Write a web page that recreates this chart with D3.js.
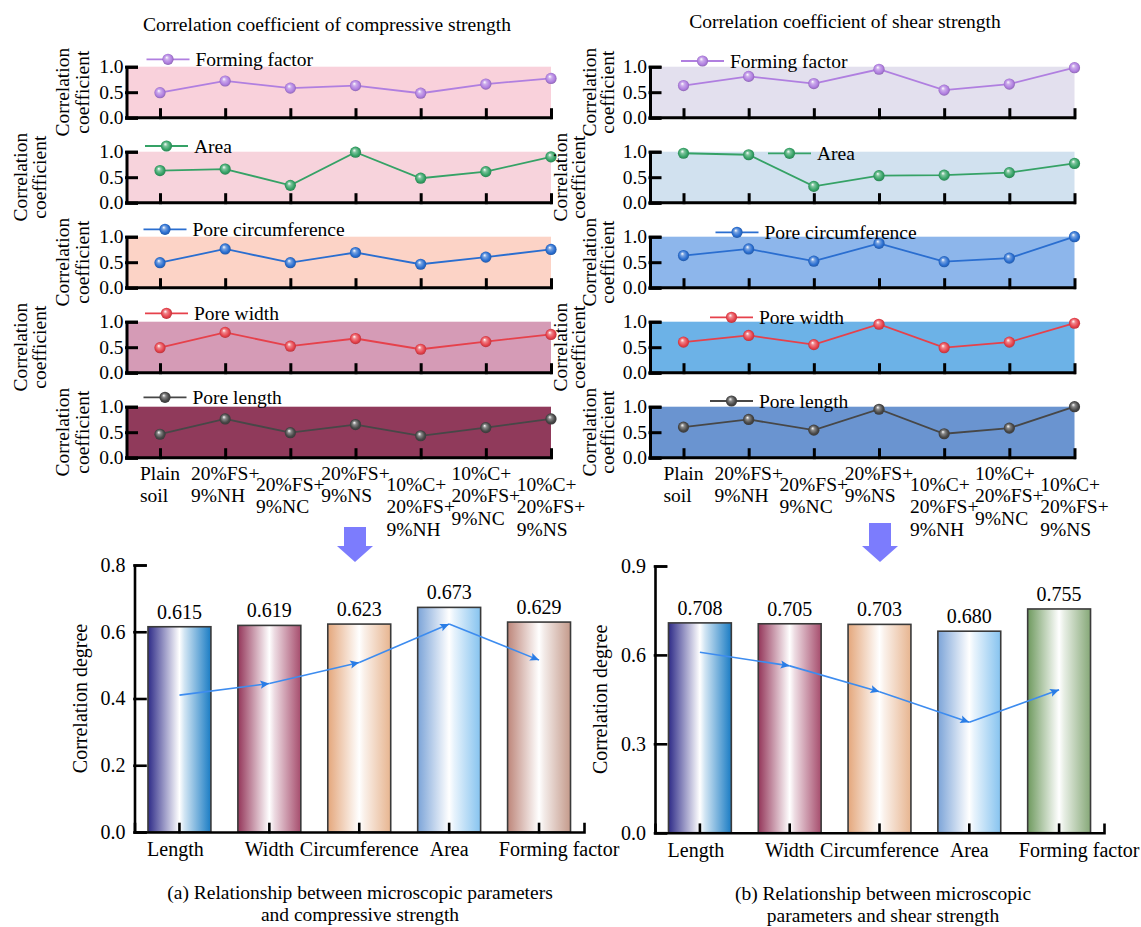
<!DOCTYPE html>
<html>
<head>
<meta charset="utf-8">
<script src="https://cdn.jsdelivr.net/npm/d3@7"></script>
<style>
  body { margin: 0; background: #fff; }
  svg { display: block; }
</style>
</head>
<body>
<svg id="fig" width="1141" height="927"></svg>
<script>
// ---------- data ----------
const mixLabels = [
  ["Plain", "soil"], ["20%FS+", "9%NH"], ["20%FS+", "9%NC"], ["20%FS+", "9%NS"],
  ["10%C+", "20%FS+", "9%NH"], ["10%C+", "20%FS+", "9%NC"], ["10%C+", "20%FS+", "9%NS"]
];
const seriesNames = ["Forming factor", "Area", "Pore circumference", "Pore width", "Pore length"];
const coefTicks = [0, 0.5, 1.0];

// correlation coefficients with compressive strength
const compFormingFactor  = [0.49, 0.72, 0.58, 0.63, 0.48, 0.66, 0.77];
const compArea           = [0.63, 0.66, 0.34, 0.99, 0.48, 0.61, 0.90];
const compCircumference  = [0.49, 0.76, 0.49, 0.69, 0.46, 0.60, 0.75];
const compWidth          = [0.49, 0.79, 0.52, 0.67, 0.46, 0.61, 0.75];
const compLength         = [0.46, 0.76, 0.49, 0.65, 0.43, 0.59, 0.76];

// correlation coefficients with shear strength
const shearFormingFactor = [0.63, 0.81, 0.67, 0.95, 0.54, 0.66, 0.98];
const shearArea          = [0.97, 0.94, 0.32, 0.53, 0.54, 0.59, 0.77];
const shearCircumference = [0.63, 0.76, 0.52, 0.87, 0.51, 0.58, 1.00];
const shearWidth         = [0.60, 0.73, 0.55, 0.95, 0.49, 0.60, 0.97];
const shearLength        = [0.60, 0.75, 0.54, 0.95, 0.47, 0.58, 1.00];

// grey correlation degree of each microscopic parameter
const microParams = ["Length", "Width", "Circumference", "Area", "Forming factor"];
const compDegree  = [0.615, 0.619, 0.623, 0.673, 0.629];
const shearDegree = [0.708, 0.705, 0.703, 0.680, 0.755];
const compTrend   = [0.410, 0.445, 0.508, 0.623, 0.515];
const shearTrend  = [0.609, 0.563, 0.476, 0.373, 0.482];
const compDegreeTicks  = [0, 0.2, 0.4, 0.6, 0.8];
const shearDegreeTicks = [0, 0.3, 0.6, 0.9];

// ---------- styles ----------
const FONT = "'Liberation Serif', 'Times New Roman', Times, serif";
const seriesColors = ["#b07fe0", "#35a266", "#2a6ed0", "#e6414b", "#474747"];
const compPanelFills  = ["#f9d1db", "#f7d3dc", "#fcd3c6", "#d59bb6", "#903a5b"];
const shearPanelFills = ["#e3e0ee", "#d1e1ef", "#8db6eb", "#6cb2e7", "#6a94d0"];
const compBarFills = [
  ["#2e2b88", "#1a7cc4"], ["#94365a", "#a64d6d"], ["#e4a77c", "#e7b590"],
  ["#7ca4d8", "#86c3ef"], ["#bd867a", "#c49a8b"]
];
const shearBarFills = [
  ["#2e2b88", "#1a7cc4"], ["#94365a", "#a64d6d"], ["#e4a77c", "#e7b590"],
  ["#7ca4d8", "#86c3ef"], ["#6f9a5f", "#86a878"]
];

const svg = d3.select("#fig").attr("font-family", FONT);
const defs = svg.append("defs");

// shaded sphere markers
seriesColors.forEach((c, i) => {
  const g = defs.append("radialGradient").attr("id", "sph" + i)
    .attr("cx", "50%").attr("cy", "50%").attr("r", "55%").attr("fx", "38%").attr("fy", "32%");
  g.append("stop").attr("offset", "0%").attr("stop-color", "#ffffff");
  g.append("stop").attr("offset", "30%").attr("stop-color", d3.interpolateRgb(c, "#fff")(0.35));
  g.append("stop").attr("offset", "70%").attr("stop-color", c);
  g.append("stop").attr("offset", "100%").attr("stop-color", d3.color(c).darker(0.8));
});

// arrow head for trend lines
defs.append("marker").attr("id", "trendArrow")
  .attr("viewBox", "0 -5 10 10").attr("refX", 10).attr("refY", 0)
  .attr("markerUnits", "userSpaceOnUse").attr("markerWidth", 11).attr("markerHeight", 9)
  .attr("orient", "auto")
  .append("path").attr("d", "M0,-4.5L10,0L0,4.5L2,0Z").attr("fill", "#2a7de6");

// ---------- small-multiple coefficient panels ----------
const panelW = 424.5, panelH = 51, rowStep = 85, firstTop = 66.7, firstPointDx = 33.5;
const topFont = 19.5;

const columns = [
  {
    title: "Correlation coefficient of compressive strength", titleX: 327, titleY: 31,
    axisX: 126.5, values: [compFormingFactor, compArea, compCircumference, compWidth, compLength],
    fills: compPanelFills,
    legendDx: [20, 18.5, 17, 18.5, 17], legendDy: [-7.4, -5.7, -7.4, -8.4, -9.4],
    labelNear: [-64, -44.5], labelFar: [-106.5, -87.5]
  },
  {
    title: "Correlation coefficient of shear strength", titleX: 845, titleY: 28,
    axisX: 650, values: [shearFormingFactor, shearArea, shearCircumference, shearWidth, shearLength],
    fills: shearPanelFills,
    legendDx: [31, 118, 65.5, 60, 60], legendDy: [-5.7, 1.6, -4.4, -4.4, -5.7],
    labelNear: [-61, -43], labelFar: [-90, -72]
  }
];

const panelLayer = svg.append("g");
const labelLayer = svg.append("g");

columns.forEach(col => {
  const ax = col.axisX;
  const xs = d3.scalePoint().domain(d3.range(mixLabels.length)).range([ax + firstPointDx, ax + panelW]);

  svg.append("text").attr("x", col.titleX).attr("y", col.titleY)
    .attr("text-anchor", "middle").attr("font-size", 19.5).text(col.title);

  col.values.forEach((vals, ri) => {
    const top = firstTop + ri * rowStep, bottom = top + panelH;
    const y = d3.scaleLinear().domain([0, 1]).range([bottom, top]);
    const g = panelLayer.append("g");

    g.append("rect").attr("x", ax).attr("y", y(1))
      .attr("width", panelW).attr("height", y(0) - y(1)).attr("fill", col.fills[ri]);

    g.append("path").datum(vals)
      .attr("d", d3.line().x((d, i) => xs(i)).y(d => y(d)))
      .attr("fill", "none").attr("stroke", seriesColors[ri]).attr("stroke-width", 1.8);

    g.selectAll("circle.pt").data(vals).join("circle").attr("class", "pt")
      .attr("cx", (d, i) => xs(i)).attr("cy", d => y(d)).attr("r", 5.6)
      .attr("fill", `url(#sph${ri})`);

    // axes
    const ya = g.append("g").attr("transform", `translate(${ax},0)`)
      .call(d3.axisLeft(y).tickValues(coefTicks).tickFormat(d3.format(".1f"))
        .tickSizeInner(-10).tickSizeOuter(-10).tickPadding(3));
    const xa = g.append("g").attr("transform", `translate(0,${bottom})`)
      .call(d3.axisBottom(xs).tickSizeInner(-8).tickSizeOuter(0).tickFormat(""));
    xa.select(".domain").attr("d", `M${ax},0H${ax + panelW}`);
    [ya, xa].forEach(a => {
      a.attr("font-family", FONT).attr("font-size", topFont);
      a.selectAll("path,line").attr("stroke", "#000").attr("stroke-width", 3)
        .attr("stroke-linecap", "square");
      a.selectAll("text").attr("fill", "#000");
    });
    ya.selectAll(".tick text").attr("x", -3);

    // legend entry
    const lx = ax + col.legendDx[ri], ly = top + col.legendDy[ri];
    const lg = labelLayer.append("g").attr("transform", `translate(${lx},${ly})`);
    lg.append("line").attr("x1", 0).attr("x2", 43).attr("stroke", seriesColors[ri]).attr("stroke-width", 1.8);
    lg.append("circle").attr("cx", 21.5).attr("r", 5.6).attr("fill", `url(#sph${ri})`);
    lg.append("text").attr("x", 49).attr("dy", "0.35em").attr("font-size", topFont).text(seriesNames[ri]);

    // two-line y-axis title, staggered between rows
    const off = ri % 2 === 0 ? col.labelNear : col.labelFar;
    const cy = (top + bottom) / 2;
    ["Correlation", "coefficient"].forEach((t, k) => {
      labelLayer.append("text")
        .attr("transform", `translate(${ax + off[k]},${cy}) rotate(-90)`)
        .attr("text-anchor", "middle").attr("dy", "0.35em").attr("font-size", topFont).text(t);
    });

    // group labels under the last row
    if (ri === col.values.length - 1) {
      mixLabels.forEach((lines, i) => {
        const drop = (i % 2 === 0 && i > 0) ? 11 : 0;
        const tg = labelLayer.append("g");
        const ts = lines.map((t, k) => tg.append("text").attr("x", 0).attr("y", k * 22.7)
          .attr("font-size", topFont).text(t));
        const w = d3.max(ts, t => t.node().getComputedTextLength());
        tg.attr("transform", `translate(${xs(i) - w / 2},${bottom + 22 + drop})`);
      });
    }
  });
});

// ---------- down arrows ----------
function downArrow(cx, top) {
  const p = d3.path();
  p.moveTo(cx - 11, top); p.lineTo(cx + 11, top); p.lineTo(cx + 11, 546);
  p.lineTo(cx + 18, 546); p.lineTo(cx, 562); p.lineTo(cx - 18, 546);
  p.lineTo(cx - 11, 546); p.closePath();
  svg.append("path").attr("d", p.toString()).attr("fill", "#7c7cfd");
}
downArrow(355, 527);
downArrow(880, 523);

// ---------- correlation degree bar charts ----------
function barChart(o) {
  const g = svg.append("g");
  const x = d3.scaleBand().domain(microParams).range([o.x0, o.x1]).paddingInner(0.3).paddingOuter(0.15);
  const y = d3.scaleLinear().domain([0, o.max]).range([o.yBottom, o.yTop]);

  o.fills.forEach((f, i) => {
    const gr = defs.append("linearGradient").attr("id", o.id + "bar" + i)
      .attr("x1", "0%").attr("x2", "100%").attr("y1", "0%").attr("y2", "0%");
    gr.append("stop").attr("offset", "0%").attr("stop-color", f[0]);
    gr.append("stop").attr("offset", "50%").attr("stop-color", "#ffffff");
    gr.append("stop").attr("offset", "58%").attr("stop-color", d3.interpolateRgb(f[1], "#fff")(0.8));
    gr.append("stop").attr("offset", "100%").attr("stop-color", f[1]);
  });

  g.selectAll("rect.bar").data(o.values).join("rect").attr("class", "bar")
    .attr("x", (d, i) => x(microParams[i])).attr("width", x.bandwidth())
    .attr("y", d => y(d)).attr("height", d => y(0) - y(d))
    .attr("fill", (d, i) => `url(#${o.id}bar${i})`)
    .attr("stroke", "#3a3a3a").attr("stroke-width", 1.6);

  g.selectAll("text.val").data(o.values).join("text").attr("class", "val")
    .attr("x", (d, i) => x(microParams[i]) + x.bandwidth() / 2).attr("y", d => y(d) - 8)
    .attr("text-anchor", "middle").attr("font-size", 20).text(d => d3.format(".3f")(d));

  // trend line with arrow heads
  const pts = o.trend.map((v, i) => [x(microParams[i]) + x.bandwidth() / 2, y(v)]);
  g.selectAll("path.seg").data(d3.pairs(pts)).join("path").attr("class", "seg")
    .attr("d", d => d3.line()(d)).attr("fill", "none")
    .attr("stroke", "#3d8cef").attr("stroke-width", 1.6)
    .attr("marker-end", "url(#trendArrow)");

  const ya = g.append("g").attr("transform", `translate(${o.x0},0)`)
    .call(d3.axisLeft(y).tickValues(o.ticks).tickFormat(d3.format(".1f"))
      .tickSizeInner(-11).tickSizeOuter(-11).tickPadding(9));
  const xa = g.append("g").attr("transform", `translate(0,${o.yBottom})`)
    .call(d3.axisBottom(x).tickSizeInner(-8).tickSizeOuter(-8).tickPadding(10));
  [ya, xa].forEach(a => {
    a.attr("font-family", FONT).attr("font-size", 20);
    a.selectAll("path,line").attr("stroke", "#000").attr("stroke-width", 2.6).attr("stroke-linecap", "square");
    a.selectAll("text").attr("fill", "#000");
  });
  ya.selectAll(".tick text").attr("x", -9);
  xa.selectAll(".tick text").attr("dx", (d, i) => i === microParams.length - 1 ? 20 : (i === 0 ? -4 : 0));

  g.append("text").attr("transform", `translate(${o.titleX},${(o.yTop + o.yBottom) / 2}) rotate(-90)`)
    .attr("text-anchor", "middle").attr("dy", "0.35em").attr("font-size", 20).text("Correlation degree");

  o.caption.forEach((t, k) => {
    g.append("text").attr("x", o.capX).attr("y", o.capY + k * 22)
      .attr("text-anchor", "middle").attr("font-size", 19.5).text(t);
  });
}

barChart({
  id: "comp", x0: 134.5, x1: 584, yTop: 565, yBottom: 832, max: 0.8,
  ticks: compDegreeTicks, values: compDegree, trend: compTrend, fills: compBarFills,
  titleX: 80, capX: 360, capY: 899,
  caption: ["(a) Relationship between microscopic parameters", "and compressive strength"]
});
barChart({
  id: "shear", x0: 655, x1: 1104, yTop: 566, yBottom: 832.7, max: 0.9,
  ticks: shearDegreeTicks, values: shearDegree, trend: shearTrend, fills: shearBarFills,
  titleX: 600, capX: 883, capY: 900,
  caption: ["(b) Relationship between microscopic", "parameters and shear strength"]
});
</script>
</body>
</html>
